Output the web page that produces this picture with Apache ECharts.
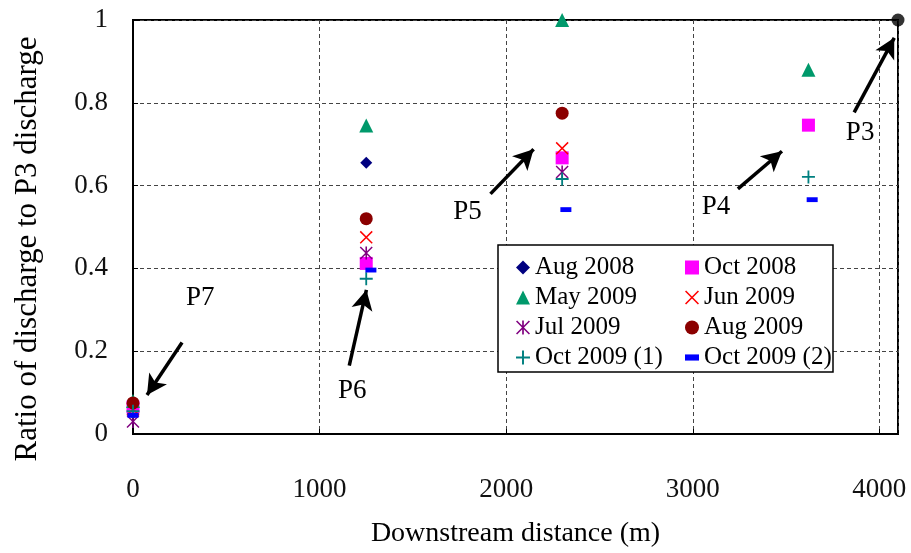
<!DOCTYPE html>
<html>
<head>
<meta charset="utf-8">
<script src="https://cdn.jsdelivr.net/npm/echarts@6/dist/echarts.min.js"></script>
<style>
  html, body { margin: 0; padding: 0; background: #fff; }
  #chart { width: 911px; height: 553px; }
</style>
</head>
<body>
<div id="chart"></div>
<script>
// sampling points P7, P6, P5, P4 (m downstream)
const distances = [0, 1250, 2300, 3620]
const dashDistances = [0, 1275, 2320, 3640]
const p3Distance = [4100]
const p3Ratio = [1]

// ratio of discharge to P3 discharge, per campaign
const aug2008 = [0.05, 0.655, null, null]
const oct2008 = [0.065, 0.412, 0.667, 0.746]
const may2009 = [0.08, 0.745, 1.0, 0.88]
const jun2009 = [0.06, 0.475, 0.69, null]
const jul2009 = [0.03, 0.437, 0.633, null]
const aug2009 = [0.075, 0.52, 0.775, null]
const oct2009a = [0.055, 0.375, 0.616, 0.621]
const oct2009b = [0.045, 0.396, 0.542, 0.566]

const xTicks = [0, 1000, 2000, 3000, 4000]
const yTicks = [0, 0.2, 0.4, 0.6, 0.8, 1]

const serif = 'Liberation Serif'

const pts = (xs, ys) => xs.map((x, i) => ys[i] == null ? null : [x, ys[i]]).filter(Boolean)

const X_PATH = 'path://M0,0.8L0.8,0L10,9.2L9.2,10ZM0.8,10L0,9.2L9.2,0L10,0.8Z'
const STAR_PATH = X_PATH + 'M4.4,0H5.6V10H4.4Z'
const PLUS_PATH = 'path://M4.3,0H5.7V4.3H10V5.7H5.7V10H4.3V5.7H0V4.3H4.3Z'
const DASH_PATH = 'path://M0,0M0,2.8H10V7.2H0ZM10,10'

const mkSeries = (name, data, symbol, size, color) => ({
  name, type: 'scatter', data, symbol, symbolSize: size,
  itemStyle: { color, opacity: 1 }, z: 3
})

// arrows + labels (data coords)
const annotations = [
  { text: 'P7', at: [360, 0.329], from: [263, 0.221], to: [75, 0.094] },
  { text: 'P6', at: [1175, 0.105], from: [1159, 0.165], to: [1251, 0.348] },
  { text: 'P5', at: [1793, 0.537], from: [1916, 0.58], to: [2147, 0.688] },
  { text: 'P4', at: [3124, 0.549], from: [3242, 0.592], to: [3478, 0.683] },
  { text: 'P3', at: [3897, 0.727], from: [3865, 0.777], to: [4080, 0.957] }
]

const chart = echarts.init(document.getElementById('chart'))

const legendCommon = {
  orient: 'vertical',
  top: 250,
  itemWidth: 14,
  itemHeight: 14,
  itemGap: 5,
  textStyle: { fontFamily: serif, fontSize: 25, color: '#000', lineHeight: 24 }
}

chart.setOption({
  animation: false,
  backgroundColor: '#fff',
  grid: {
    left: 133, right: 13, top: 20, bottom: 116,
    show: true, borderColor: '#000', borderWidth: 2
  },
  xAxis: {
    type: 'value', min: 0, max: 4100, interval: 1000,
    name: 'Downstream distance (m)',
    nameLocation: 'middle', nameGap: 86,
    nameTextStyle: { fontFamily: serif, fontSize: 28, color: '#000' },
    axisLine: { show: true, lineStyle: { color: '#000', width: 2 } },
    axisTick: { show: true, inside: true, length: 5, lineStyle: { color: '#000' } },
    axisLabel: {
      margin: 42, showMaxLabel: false,
      fontFamily: serif, fontSize: 27, color: '#111',
      formatter: v => xTicks.includes(v) ? String(v) : ''
    },
    splitLine: { show: true, lineStyle: { color: '#444', type: [4, 3], width: 1 } }
  },
  yAxis: {
    type: 'value', min: 0, max: 1, interval: 0.2,
    name: 'Ratio of discharge to P3 discharge',
    nameLocation: 'middle', nameGap: 90,
    nameTextStyle: { fontFamily: serif, fontSize: 31, color: '#000', padding: [0, 44, 0, 0] },
    axisLine: { show: true, lineStyle: { color: '#000', width: 2 } },
    axisTick: { show: true, inside: true, length: 5, lineStyle: { color: '#000' } },
    axisLabel: {
      margin: 25, fontFamily: serif, fontSize: 27, color: '#111',
      formatter: v => {
        const t = yTicks.find(y => Math.abs(y - v) < 1e-9)
        return t == null ? '' : String(t)
      }
    },
    splitLine: { show: true, lineStyle: { color: '#444', type: [4, 3], width: 1 } }
  },
  legend: [
    Object.assign({}, legendCommon, {
      left: 511,
      data: ['Aug 2008', 'May 2009', 'Jul 2009', 'Oct 2009 (1)']
    }),
    Object.assign({}, legendCommon, {
      left: 680,
      data: ['Oct 2008', 'Jun 2009', 'Aug 2009', 'Oct 2009 (2)']
    })
  ],
  graphic: [{
    type: 'rect', z: 3,
    shape: { x: 498, y: 245, width: 335, height: 127 },
    style: { fill: '#fff', stroke: '#000', lineWidth: 1.5 }
  }],
  series: [
    mkSeries('Aug 2008', pts(distances, aug2008), 'diamond', 12, '#000080'),
    mkSeries('Oct 2008', pts(distances, oct2008), 'rect', 13, '#ff00ff'),
    mkSeries('May 2009', pts(distances, may2009), 'triangle', 14, '#00996b'),
    mkSeries('Jun 2009', pts(distances, jun2009), X_PATH, 13, '#ff0000'),
    mkSeries('Jul 2009', pts(distances, jul2009), STAR_PATH, 13, '#800080'),
    mkSeries('Aug 2009', pts(distances, aug2009), 'circle', 13, '#8b0000'),
    mkSeries('Oct 2009 (1)', pts(distances, oct2009a), PLUS_PATH, 13, '#008080'),
    mkSeries('Oct 2009 (2)', pts(dashDistances, oct2009b), DASH_PATH, 11, '#0000ff'),
    {
      name: 'P3', type: 'scatter', data: pts(p3Distance, p3Ratio),
      symbol: 'circle', symbolSize: 13, itemStyle: { color: '#000' }, z: 4,
      markLine: {
        silent: true, animation: false,
        symbol: ['none', 'arrow'], symbolSize: [16, 20],
        lineStyle: { color: '#000', width: 3.5, type: 'solid' },
        label: { show: false },
        data: annotations.map(a => [{ coord: a.from }, { coord: a.to }])
      },
      markPoint: {
        silent: true, animation: false,
        symbol: 'circle', symbolSize: 0,
        label: {
          show: true, position: 'inside', formatter: '{b}',
          fontFamily: serif, fontSize: 27, color: '#000'
        },
        data: annotations.map(a => ({ name: a.text, coord: a.at }))
      }
    }
  ]
})
</script>
</body>
</html>
